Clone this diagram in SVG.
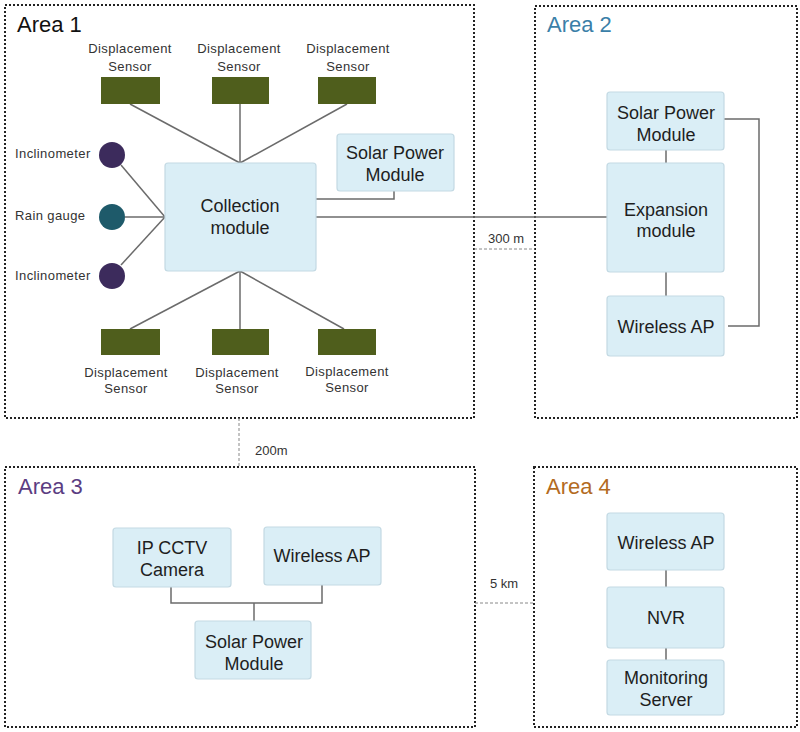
<svg xmlns="http://www.w3.org/2000/svg" width="800" height="732" viewBox="0 0 800 732">
<style>
.area{fill:none;stroke:#222;stroke-width:2;stroke-dasharray:2 2}
.node{fill:#daeef6;stroke:#c3d9e3;stroke-width:1.2}
.sensor{fill:#4f5e1c}
.t{font-family:"Liberation Sans",Arial,sans-serif;font-size:18px;fill:#1e1e1e;text-anchor:middle}
.s{font-family:"Liberation Sans",Arial,sans-serif;font-size:13px;fill:#333;text-anchor:middle;letter-spacing:0.4px}
.l{font-family:"Liberation Sans",Arial,sans-serif;font-size:13px;fill:#333;letter-spacing:0.4px}
.d{font-family:"Liberation Sans",Arial,sans-serif;font-size:13px;fill:#333}
.title{font-family:"Liberation Sans",Arial,sans-serif;font-size:22px}
.c{fill:none;stroke:#6b6b6b;stroke-width:1.5}
.dist{fill:none;stroke:#888;stroke-width:1;stroke-dasharray:3 2}
</style>
<rect width="800" height="732" fill="#fff"/>

<g id="area1">
<rect class="area" x="5" y="5" width="469" height="413"/>
<text class="title" x="17" y="32" fill="#111">Area 1</text>
</g>
<g id="area2">
<rect class="area" x="535" y="6" width="262" height="412"/>
<text class="title" x="547" y="32" fill="#3b7fa8">Area 2</text>
</g>
<g id="area3">
<rect class="area" x="5" y="467" width="470" height="260"/>
<text class="title" x="18" y="494" fill="#5b3d82">Area 3</text>
</g>
<g id="area4">
<rect class="area" x="534" y="467" width="263" height="260"/>
<text class="title" x="546" y="494" fill="#b36b1f">Area 4</text>
</g>

<g id="connectors">
<line class="c" x1="130" y1="104" x2="240" y2="163"/>
<line class="c" x1="240" y1="104" x2="240" y2="163"/>
<line class="c" x1="347" y1="104" x2="240" y2="163"/>
<line class="c" x1="240" y1="271" x2="130" y2="329"/>
<line class="c" x1="240" y1="271" x2="240" y2="329"/>
<line class="c" x1="240" y1="271" x2="344" y2="329"/>
<line class="c" x1="121" y1="165" x2="165" y2="217"/>
<line class="c" x1="125" y1="217" x2="165" y2="217"/>
<line class="c" x1="121" y1="265" x2="165" y2="217"/>
<polyline class="c" points="316,199 394,199 394,191"/>
<line class="c" x1="316" y1="217" x2="607" y2="217"/>
<line class="c" x1="666" y1="150" x2="666" y2="163"/>
<line class="c" x1="666" y1="272" x2="666" y2="296"/>
<polyline class="c" points="724,119 759,119 759,326 728,326"/>
<polyline class="c" points="171,587 171,603 322,603 322,585"/>
<line class="c" x1="254" y1="603" x2="254" y2="621"/>
<line class="c" x1="666" y1="570" x2="666" y2="587"/>
<line class="c" x1="666" y1="648" x2="666" y2="660"/>
<line class="dist" x1="474" y1="249" x2="535" y2="249"/>
<line class="dist" x1="239" y1="418" x2="239" y2="467"/>
<line class="dist" x1="475" y1="603" x2="534" y2="603"/>
<text class="d" x="488" y="243">300 m</text>
<text class="d" x="255" y="455">200m</text>
<text class="d" x="490" y="588">5 km</text>
</g>

<g id="sensor-top-1"><text class="s" x="130" y="53">Displacement</text><text class="s" x="130" y="71">Sensor</text><rect class="sensor" x="101" y="77" width="59" height="27"/></g>
<g id="sensor-top-2"><text class="s" x="239" y="53">Displacement</text><text class="s" x="239" y="71">Sensor</text><rect class="sensor" x="212" y="77" width="57" height="27"/></g>
<g id="sensor-top-3"><text class="s" x="348" y="53">Displacement</text><text class="s" x="348" y="71">Sensor</text><rect class="sensor" x="318" y="77" width="58" height="27"/></g>
<g id="sensor-bot-1"><rect class="sensor" x="101" y="329" width="59" height="26"/><text class="s" x="126" y="377">Displacement</text><text class="s" x="126" y="393">Sensor</text></g>
<g id="sensor-bot-2"><rect class="sensor" x="212" y="329" width="57" height="26"/><text class="s" x="237" y="377">Displacement</text><text class="s" x="237" y="393">Sensor</text></g>
<g id="sensor-bot-3"><rect class="sensor" x="318" y="329" width="58" height="26"/><text class="s" x="347" y="376">Displacement</text><text class="s" x="347" y="392">Sensor</text></g>

<g id="inclinometer-1"><text class="l" x="15" y="158">Inclinometer</text><circle cx="112" cy="155" r="13" fill="#3c2b5c"/></g>
<g id="rain-gauge"><text class="l" x="15" y="220">Rain gauge</text><circle cx="112" cy="217" r="13" fill="#1e5a6a"/></g>
<g id="inclinometer-2"><text class="l" x="15" y="280">Inclinometer</text><circle cx="112" cy="276" r="13" fill="#3c2b5c"/></g>

<g id="collection-module"><rect class="node" x="165" y="163" width="151" height="108" rx="3"/><text class="t" x="240" y="212">Collection</text><text class="t" x="240" y="234">module</text></g>
<g id="solar-1"><rect class="node" x="337" y="134" width="117" height="57" rx="3"/><text class="t" x="395" y="159">Solar Power</text><text class="t" x="395" y="181">Module</text></g>

<g id="solar-2"><rect class="node" x="607" y="92" width="117" height="58" rx="3"/><text class="t" x="666" y="119">Solar Power</text><text class="t" x="666" y="141">Module</text></g>
<g id="expansion-module"><rect class="node" x="607" y="163" width="117" height="109" rx="3"/><text class="t" x="666" y="216">Expansion</text><text class="t" x="666" y="237">module</text></g>
<g id="wireless-ap-2"><rect class="node" x="607" y="296" width="117" height="60" rx="3"/><text class="t" x="666" y="333">Wireless AP</text></g>

<g id="ip-cctv"><rect class="node" x="113" y="528" width="118" height="59" rx="3"/><text class="t" x="172" y="554">IP CCTV</text><text class="t" x="172" y="576">Camera</text></g>
<g id="wireless-ap-3"><rect class="node" x="264" y="527" width="117" height="58" rx="3"/><text class="t" x="322" y="562">Wireless AP</text></g>
<g id="solar-3"><rect class="node" x="195" y="621" width="116" height="58" rx="3"/><text class="t" x="254" y="648">Solar Power</text><text class="t" x="254" y="670">Module</text></g>

<g id="wireless-ap-4"><rect class="node" x="607" y="513" width="117" height="57" rx="3"/><text class="t" x="666" y="549">Wireless AP</text></g>
<g id="nvr"><rect class="node" x="607" y="587" width="117" height="61" rx="3"/><text class="t" x="666" y="624">NVR</text></g>
<g id="monitoring-server"><rect class="node" x="607" y="660" width="117" height="55" rx="3"/><text class="t" x="666" y="684">Monitoring</text><text class="t" x="666" y="706">Server</text></g>
</svg>
